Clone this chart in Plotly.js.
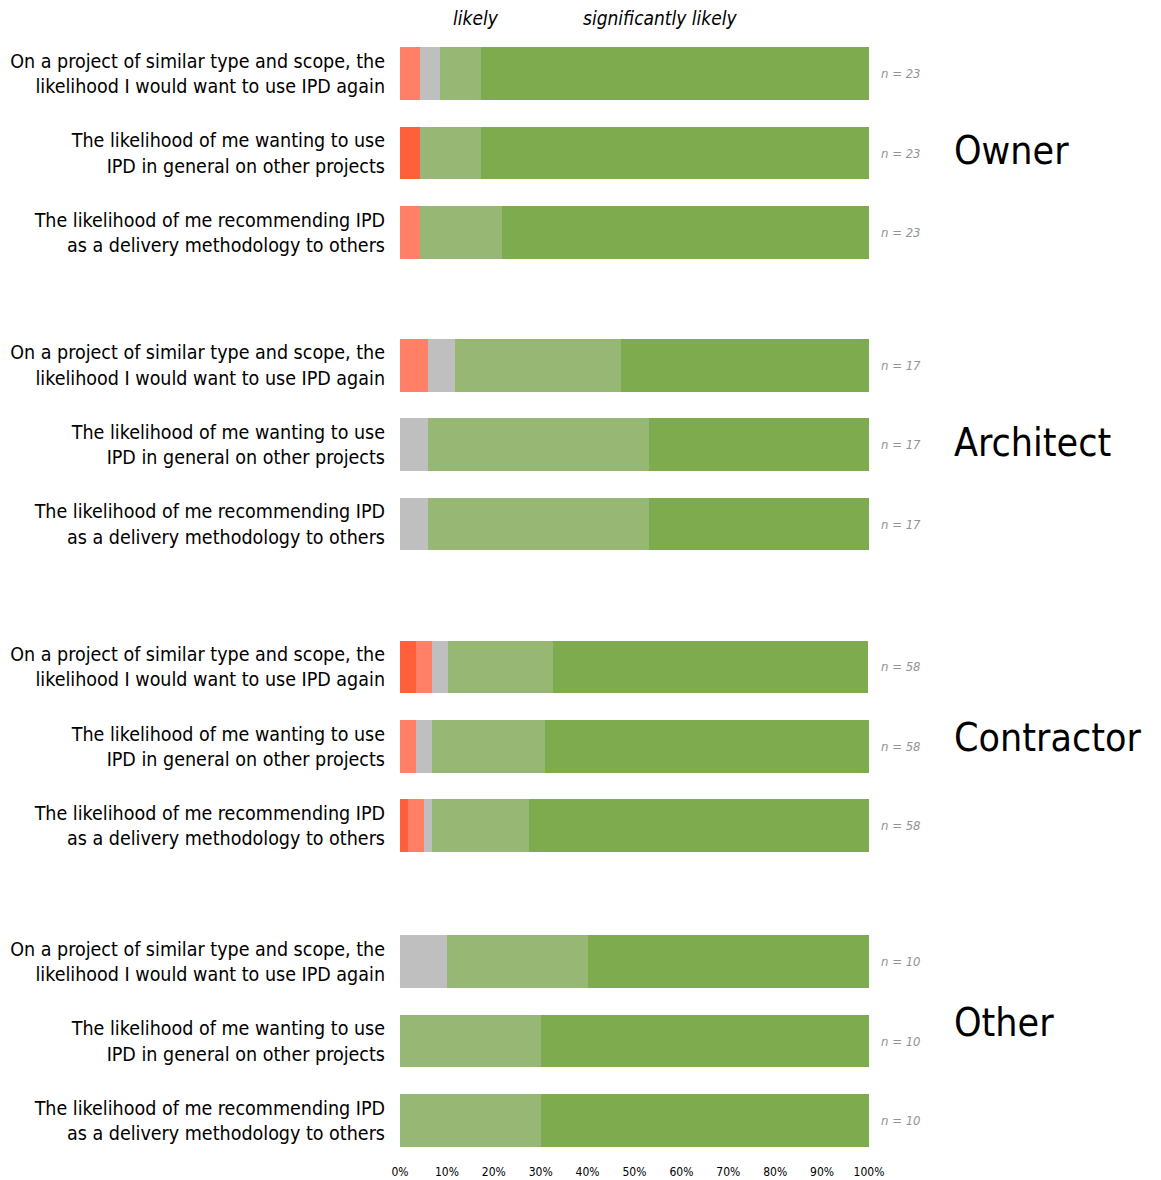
<!DOCTYPE html>
<html>
<head>
<meta charset="utf-8">
<script src="https://cdn.plot.ly/plotly-3.0.1.min.js"></script>
<style>
  html, body { margin: 0; padding: 0; background: #ffffff; }
  #chart { width: 1161px; height: 1180px; }
</style>
</head>
<body>
<div id="chart"></div>
<script>
// ---- data (percent of respondents) ----
const groups = ["Owner", "Architect", "Contractor", "Other"];
const groupN = [23, 17, 58, 10];
const questions = [
  "On a project of similar type and scope, the<br>likelihood I would want to use IPD again",
  "The likelihood of me wanting to use<br>IPD in general on other projects",
  "The likelihood of me recommending IPD<br>as a delivery methodology to others"
];
const seriesNames = ["significantly unlikely", "unlikely", "neutral", "likely", "significantly likely"];

// rows: Owner q1..q3, Architect q1..q3, Contractor q1..q3, Other q1..q3
const sigUnlikely = [0, 4.3, 0,    0, 0, 0,      3.4, 0, 1.7,    0, 0, 0];
const unlikely    = [4.3, 0, 4.3,  5.9, 0, 0,    3.4, 3.4, 3.4,  0, 0, 0];
const neutral     = [4.3, 0, 0,    5.9, 5.9, 5.9, 3.4, 3.4, 1.7, 10, 0, 0];
const likely      = [8.7, 13.0, 17.4, 35.3, 47.1, 47.1, 22.4, 24.1, 20.7, 30, 30, 30];
const sigLikely   = [82.6, 82.6, 78.3, 52.9, 47.1, 47.1, 67.2, 69.0, 72.4, 60, 70, 70];

const xTickVals = [0, 10, 20, 30, 40, 50, 60, 70, 80, 90, 100];
const xTickText = ["0%", "10%", "20%", "30%", "40%", "50%", "60%", "70%", "80%", "90%", "100%"];

// ---- layout helpers (row slots on a numeric y axis) ----
const groupOffset = [0, 3.67, 7.47, 11.18];
const groupLabelY = [0.97, 4.65, 8.36, 11.94];
const yPos = [];
const yText = [];
groups.forEach((g, gi) => {
  questions.forEach((q, qi) => {
    yPos.push(groupOffset[gi] + qi);
    yText.push(q);
  });
});

const colors = ["#FF5F3A", "#FF7F67", "#BFBFBF", "#97B874", "#7FAB4F"];
const values = [sigUnlikely, unlikely, neutral, likely, sigLikely];

const traces = values.map((vals, i) => ({
  type: "bar",
  orientation: "h",
  name: seriesNames[i],
  x: vals,
  y: yPos,
  width: 0.665,
  marker: { color: colors[i], line: { width: 0 } },
  hoverinfo: "name+x",
  showlegend: false
}));

const font = "'DejaVu Sans Condensed', 'Liberation Sans Narrow', 'Arial Narrow', sans-serif";

const annotations = [];
// n labels
groups.forEach((g, gi) => {
  questions.forEach((q, qi) => {
    annotations.push({
      xref: "paper", yref: "y",
      x: 1.021, y: groupOffset[gi] + qi,
      xanchor: "left", yanchor: "middle",
      text: "<i>n = " + groupN[gi] + "</i>",
      showarrow: false,
      font: { family: font, size: 13, color: "#939393" }
    });
  });
});
// group labels
groups.forEach((g, gi) => {
  annotations.push({
    xref: "paper", yref: "y",
    x: 1.177, y: groupLabelY[gi],
    xanchor: "left", yanchor: "middle",
    text: g,
    showarrow: false,
    font: { family: font, size: 39, color: "#000000" }
  });
});
// top labels
annotations.push({
  xref: "paper", yref: "paper", x: 0.162, y: 1.0, yanchor: "bottom", xanchor: "center",
  yshift: -5,
  text: "<i>likely</i>", showarrow: false,
  font: { family: font, size: 19, color: "#000000" }
});
annotations.push({
  xref: "paper", yref: "paper", x: 0.556, y: 1.0, yanchor: "bottom", xanchor: "center",
  yshift: -5,
  text: "<i>significantly likely</i>", showarrow: false,
  font: { family: font, size: 19, color: "#000000" }
});

const layout = {
  width: 1161,
  height: 1180,
  paper_bgcolor: "#ffffff",
  plot_bgcolor: "#ffffff",
  barmode: "stack",
  margin: { l: 400, r: 292, t: 26, b: 17 },
  xaxis: {
    range: [0, 100],
    tickvals: xTickVals,
    ticktext: xTickText,
    showgrid: false,
    zeroline: false,
    showline: false,
    ticks: "",
    tickfont: { family: font, size: 12, color: "#000000" },
    fixedrange: true
  },
  yaxis: {
    range: [13.715, -0.6],
    tickvals: yPos,
    ticktext: yText,
    showgrid: false,
    zeroline: false,
    showline: false,
    ticks: "",
    ticklabelstandoff: 14,
    tickfont: { family: font, size: 19.5, color: "#000000" },
    fixedrange: true
  },
  annotations: annotations,
  showlegend: false
};

Plotly.newPlot("chart", traces, layout, { displayModeBar: false, staticPlot: true });
</script>
</body>
</html>
